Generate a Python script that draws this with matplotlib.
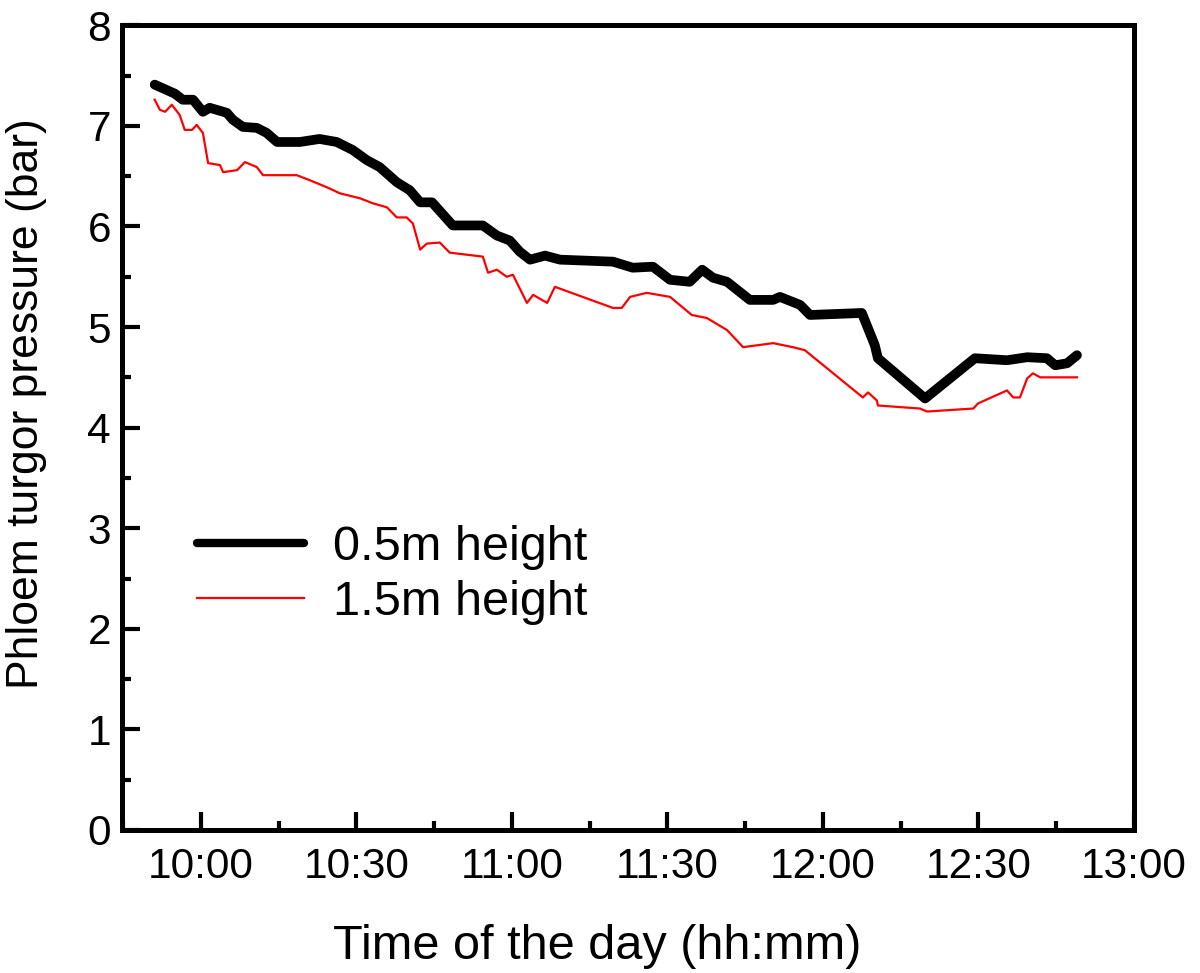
import matplotlib
matplotlib.use("Agg")
import matplotlib.pyplot as plt
from matplotlib.ticker import MultipleLocator, FixedLocator

plt.rcParams['font.family'] = ['Liberation Sans', 'DejaVu Sans']

# time in minutes after midnight
t_black = [591.1, 595.0, 596.5, 598.5, 600.4, 601.7, 605.0, 606.2, 608.1, 610.8, 612.7,
           614.7, 619.1, 622.9, 626.2, 629.3, 632.0, 634.5, 637.8, 640.3, 642.3, 644.6,
           648.6, 654.4, 657.1, 659.6, 661.5, 663.5, 666.4, 669.3, 679.5, 683.3, 687.2,
           690.5, 694.3, 696.7, 698.8, 701.5, 705.9, 710.4, 711.7, 715.6, 717.5, 727.5,
           730.0, 730.6, 739.7, 749.3, 755.5, 759.4, 763.2, 764.8, 767.1, 769.0]
p_black = [7.41, 7.32, 7.26, 7.26, 7.14, 7.18, 7.13, 7.06, 6.99, 6.98, 6.93,
           6.84, 6.84, 6.87, 6.84, 6.76, 6.66, 6.59, 6.44, 6.36, 6.24, 6.24,
           6.01, 6.01, 5.91, 5.86, 5.75, 5.67, 5.71, 5.67, 5.65, 5.59, 5.60,
           5.47, 5.45, 5.57, 5.49, 5.45, 5.27, 5.27, 5.30, 5.22, 5.12, 5.14,
           4.82, 4.69, 4.29, 4.69, 4.67, 4.70, 4.69, 4.62, 4.64, 4.72]

t_red = [591.1, 592.1, 593.1, 594.4, 595.9, 596.9, 598.3, 599.2, 600.4, 601.4, 603.7,
         604.3, 607.0, 608.5, 610.8, 612.0, 618.5, 621.0, 624.3, 626.8, 630.7, 633.2,
         635.9, 637.8, 639.7, 640.9, 642.3, 643.6, 646.1, 648.0, 654.4, 655.4, 657.1,
         659.0, 660.2, 662.9, 664.1, 666.8, 668.3, 679.5, 681.2, 682.8, 686.0, 690.5,
         694.7, 697.6, 701.5, 704.6, 710.4, 714.2, 716.5, 727.7, 728.7, 730.4, 730.6,
         738.7, 740.1, 749.0, 749.9, 755.5, 756.7, 758.0, 759.4, 760.5, 761.9, 769.0]
p_red = [7.26, 7.16, 7.14, 7.21, 7.11, 6.96, 6.96, 7.01, 6.93, 6.63, 6.61,
         6.54, 6.56, 6.64, 6.59, 6.51, 6.51, 6.46, 6.39, 6.33, 6.28, 6.23,
         6.19, 6.09, 6.09, 6.03, 5.77, 5.83, 5.84, 5.74, 5.70, 5.54, 5.57,
         5.50, 5.52, 5.24, 5.32, 5.24, 5.40, 5.19, 5.19, 5.30, 5.34, 5.30,
         5.12, 5.09, 4.97, 4.80, 4.84, 4.80, 4.77, 4.30, 4.35, 4.27, 4.22,
         4.19, 4.16, 4.19, 4.24, 4.37, 4.30, 4.30, 4.49, 4.54, 4.50, 4.50]

x_ticks = [600, 630, 660, 690, 720, 750, 780]
x_labels = ["10:00", "10:30", "11:00", "11:30", "12:00", "12:30", "13:00"]
labels = ["0.5m height", "1.5m height"]

fig = plt.figure(figsize=(12, 9.73), dpi=100)
ax = fig.add_axes([0.1017, 0.147, 0.8433, 0.827])

ax.plot(t_black, p_black, color='black', lw=7, solid_joinstyle='round',
        solid_capstyle='round', label=labels[0])
ax.plot(t_red, p_red, color='#ff0000', lw=1.6, label=labels[1])

ax.set_xlim(584.8, 780)
ax.set_ylim(0, 8)
ax.xaxis.set_major_locator(FixedLocator(x_ticks))
ax.set_xticklabels(x_labels)
ax.xaxis.set_minor_locator(MultipleLocator(15))
ax.yaxis.set_major_locator(MultipleLocator(1))
ax.yaxis.set_minor_locator(MultipleLocator(0.5))

for s in ax.spines.values():
    s.set_linewidth(3.6)
ax.tick_params(which='major', direction='in', length=13, width=3, labelsize=30.5, pad=8)
ax.tick_params(which='minor', direction='in', length=6.5, width=3)
ax.tick_params(axis='x', pad=12)

ax.set_xlabel("Time of the day (hh:mm)", fontsize=35)
ax.xaxis.set_label_coords(0.47, -0.117)
ax.set_ylabel("Phloem turgor pressure (bar)", fontsize=32)
ax.yaxis.set_label_coords(-0.074, 0.53)

leg = ax.legend(loc='upper left', bbox_to_anchor=(0.055, 0.403), frameon=False,
                fontsize=35, handlelength=2.2, handletextpad=0.6, labelspacing=0.2,
                borderaxespad=0)
leg.get_lines()[0].set_linewidth(6)

fig.savefig("out.png", dpi=100)
